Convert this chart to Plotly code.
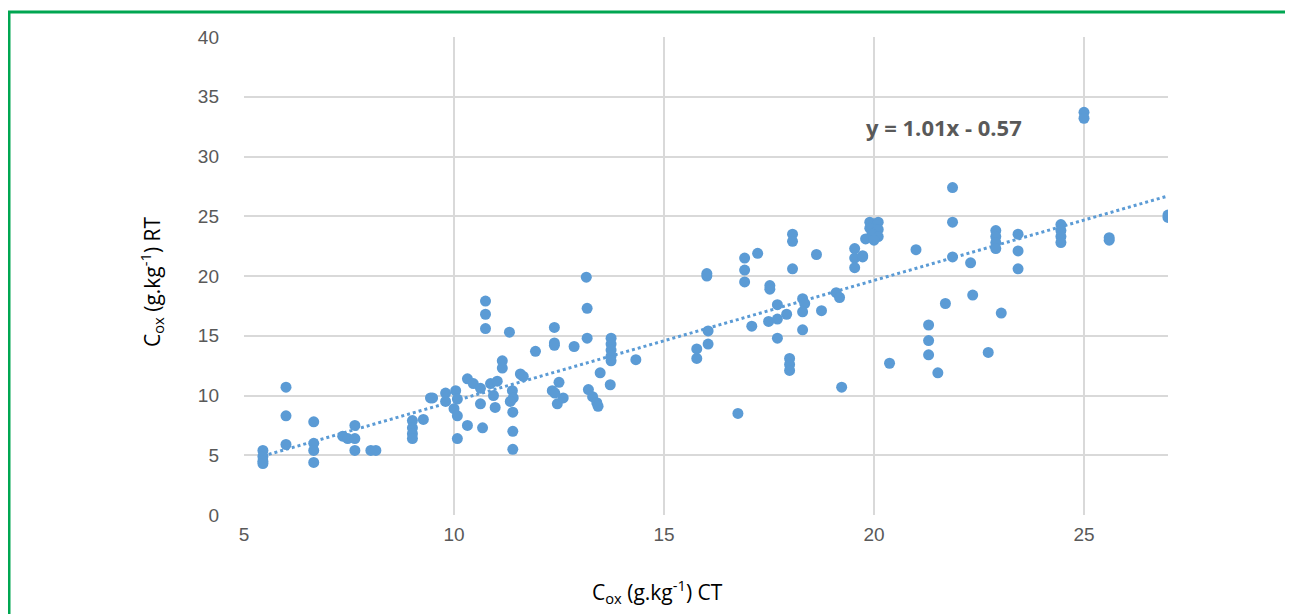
import numpy as np
import plotly.graph_objects as go

# Cox CT (x) and Cox RT (y), g.kg-1
x_ct = [
    5.45, 5.45, 5.45, 5.45,
    6.0, 6.0, 6.0,
    6.66, 6.66, 6.66, 6.66,
    7.35, 7.47, 7.64, 7.64, 7.64,
    8.02, 8.14,
    9.01, 9.01, 9.01, 9.01, 9.27, 9.44, 9.49,
    9.8, 9.8, 10.04, 10.08, 10.0, 10.08, 10.32, 10.68, 10.08,
    10.32, 10.46, 10.63, 10.87, 11.03, 10.94, 10.98, 10.63,
    10.75, 10.75, 10.75, 11.32, 11.94, 11.15, 11.15, 11.58, 11.65,
    11.39, 11.41, 11.34, 11.4, 11.4, 11.4,
    12.39, 12.39, 12.39, 12.34, 12.46, 12.6, 12.5, 12.4,
    13.17, 13.17, 12.86, 13.15,
    13.74, 13.74, 13.74, 13.74, 13.74, 14.33, 13.48, 13.72, 13.2, 13.3, 13.4, 13.43,
    15.78, 15.78, 16.05, 16.05, 16.02, 16.02,
    16.92, 16.92, 16.92, 17.23, 17.09, 17.49, 17.52, 17.52,
    17.7, 17.7, 17.92, 17.7, 18.06, 18.06, 18.06, 18.3, 18.35, 18.3, 18.3,
    18.63, 18.75, 19.1, 19.18, 17.99, 17.99, 17.99, 19.23, 16.76,
    19.54, 19.54, 19.54, 19.73, 19.73,
    19.9, 20.1, 19.9, 20.1, 19.95, 20.1, 19.8, 20.0,
    20.37, 21.0, 21.3, 21.3, 21.3, 21.52, 21.7, 21.87, 21.87, 21.87,
    22.3, 22.35, 22.72, 22.9, 22.9, 22.9, 22.9, 23.03,
    23.43, 23.43, 23.43,
    24.45, 24.45, 24.45, 24.45,
    25.0, 25.0, 25.6, 25.6, 27.0, 27.0,
]
y_rt = [
    5.4, 4.9, 4.5, 4.3,
    10.7, 8.3, 5.9,
    7.8, 6.0, 5.4, 4.4,
    6.6, 6.4, 7.5, 6.4, 5.4,
    5.4, 5.4,
    7.9, 7.3, 6.8, 6.4, 8.0, 9.8, 9.8,
    10.2, 9.5, 10.4, 9.7, 8.9, 8.3, 7.5, 7.3, 6.4,
    11.4, 11.0, 10.6, 11.0, 11.2, 10.0, 9.0, 9.3,
    17.9, 16.8, 15.6, 15.3, 13.7, 12.9, 12.3, 11.8, 11.6,
    10.4, 9.8, 9.5, 8.6, 7.0, 5.5,
    15.7, 14.4, 14.2, 10.4, 9.3, 9.8, 11.1, 10.2,
    17.3, 14.8, 14.1, 19.9,
    14.8, 14.3, 13.8, 13.3, 12.9, 13.0, 11.9, 10.9, 10.5, 9.9, 9.4, 9.1,
    13.9, 13.1, 15.4, 14.3, 20.0, 20.2,
    21.5, 20.5, 19.5, 21.9, 15.8, 16.2, 19.2, 18.9,
    17.6, 16.4, 16.8, 14.8, 23.5, 22.9, 20.6, 18.1, 17.7, 17.0, 15.5,
    21.8, 17.1, 18.6, 18.2, 13.1, 12.6, 12.1, 10.7, 8.5,
    22.3, 21.5, 20.7, 21.6, 21.7,
    24.5, 24.5, 24.0, 23.9, 23.5, 23.3, 23.1, 23.0,
    12.7, 22.2, 15.9, 14.6, 13.4, 11.9, 17.7, 27.4, 24.5, 21.6,
    21.1, 18.4, 13.6, 23.8, 23.3, 22.8, 22.3, 16.9,
    23.5, 22.1, 20.6,
    24.3, 23.8, 23.3, 22.8,
    33.7, 33.2, 23.0, 23.2, 24.9, 25.1,
]

# Linear trend shown on the chart
slope = 1.01
intercept = -0.57
equation_text = "y = 1.01x - 0.57"
x_title = "C<sub>ox</sub> (g.kg<sup>-1</sup>) CT"
y_title = "C<sub>ox</sub> (g.kg<sup>-1</sup>) RT"

x_ticks = [5, 10, 15, 20, 25]
y_ticks = [0, 5, 10, 15, 20, 25, 30, 35, 40]

blue = "#5b9bd5"
grid = "#d9d9d9"
tick_col = "#595959"

x_line = np.array([min(x_ct), max(x_ct)])
y_line = slope * x_line + intercept

# plot area in figure pixels: left 236, right 1160, top 29, bottom 507
L, R, T, B = 236, 1160, 29, 507
W, H = R - L, B - T

def px_x(p):
    return (p - L) / W

def px_y(p):
    return (B - p) / H

fig = go.Figure()
fig.add_trace(go.Scatter(
    x=x_line, y=y_line, mode="lines",
    line=dict(color=blue, width=3, dash="dot"),
    hoverinfo="skip", showlegend=False,
))
fig.add_trace(go.Scatter(
    x=x_ct, y=y_rt, mode="markers",
    marker=dict(color=blue, size=11, line=dict(width=0)),
    showlegend=False,
))

fig.add_annotation(
    x=19.75, y=32.5, xref="x", yref="y", text="<b>" + equation_text + "</b>",
    showarrow=False, xanchor="left", yanchor="middle",
    font=dict(family="Open Sans, Liberation Sans, sans-serif", size=22, color=tick_col),
)
fig.add_annotation(
    x=px_x(649), y=px_y(583), xref="paper", yref="paper", text=x_title,
    showarrow=False, xanchor="center", yanchor="middle",
    font=dict(family="Open Sans, Liberation Sans, sans-serif", size=21, color="black"),
)
fig.add_annotation(
    x=px_x(143), y=px_y(274), xref="paper", yref="paper", text=y_title,
    showarrow=False, xanchor="center", yanchor="middle", textangle=-90,
    font=dict(family="Open Sans, Liberation Sans, sans-serif", size=21, color="black"),
)

# green frame around the figure
fig.add_shape(
    type="rect", xref="paper", yref="paper",
    x0=px_x(1), x1=px_x(1288), y0=px_y(640), y1=px_y(4),
    line=dict(color="#00a651", width=3), fillcolor="rgba(0,0,0,0)", layer="below",
)

fig.update_layout(
    width=1293, height=614,
    margin=dict(l=L, r=1293 - R, t=T, b=614 - B),
    paper_bgcolor="white", plot_bgcolor="white",
    font=dict(family="Open Sans, Liberation Sans, sans-serif", color="black"),
    xaxis=dict(
        range=[5, 27], tickvals=x_ticks, showgrid=True, gridcolor=grid, gridwidth=1.5,
        zeroline=False, showline=False, ticks="",
        tickfont=dict(family="Liberation Sans Narrow, Liberation Sans, sans-serif", size=19, color=tick_col),
        ticklabelstandoff=6,
    ),
    yaxis=dict(
        range=[0, 40], tickvals=y_ticks, showgrid=True, gridcolor=grid, gridwidth=1.5,
        zeroline=False, showline=False, ticks="",
        tickfont=dict(family="Liberation Sans Narrow, Liberation Sans, sans-serif", size=19, color=tick_col),
        ticklabelstandoff=24,
    ),
)

fig.write_html("out.html")
